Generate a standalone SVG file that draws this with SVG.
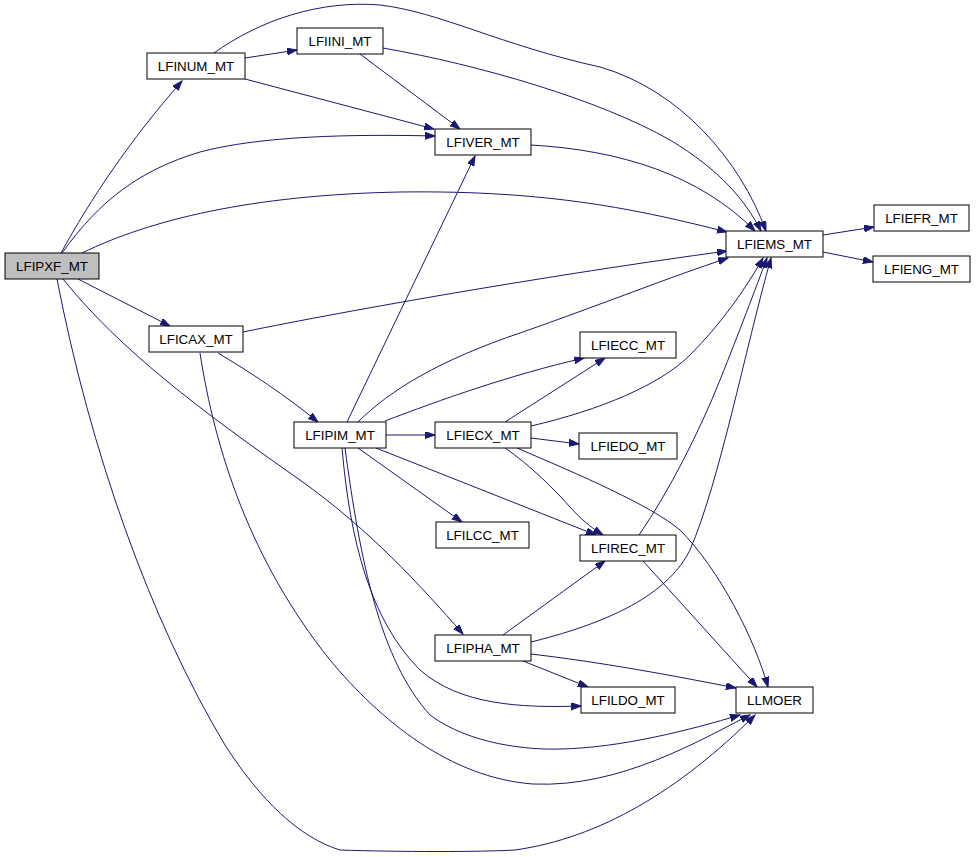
<svg xmlns="http://www.w3.org/2000/svg" width="976" height="857" viewBox="0 0 976 857">
<defs>
<style>
.n rect{fill:#ffffff;stroke:#000000;stroke-width:1}
.n.root rect{fill:#bfbfbf}
.n text{font-family:"Liberation Sans",Arial,Helvetica,sans-serif;font-size:13.33px;fill:#000000;text-anchor:middle}
.e path{fill:none;stroke:#191970;stroke-width:1;marker-end:url(#ah)}
</style>
<marker id="ah" markerUnits="userSpaceOnUse" markerWidth="11" markerHeight="8" refX="10" refY="3.5" orient="auto">
<polygon points="0,0 10,3.5 0,7" fill="#191970" stroke="#191970" stroke-width="1"/>
</marker>
</defs>
<rect width="976" height="857" fill="#ffffff"/>
<g id="edges" class="e">
<path d="M61,253 C90,200 130,140 182,81"/>
<path d="M62,253 C100,200 140,170 200,152 C260,136 350,134 435,136"/>
<path d="M82,253 C150,220 250,195 400,192 C550,190 640,210 727,232"/>
<path d="M78,279 L170,326"/>
<path d="M63,279 C120,350 200,410 300,480 C370,530 420,585 463,634"/>
<path d="M57,279 C90,450 150,620 225,745 C260,800 300,838 340,850 C400,852 480,852 515,850 C600,838 680,790 755,715"/>
<path d="M200,353 C215,450 250,560 330,660 C380,720 450,778 533,784 C620,788 700,740 750,715"/>
<path d="M342,448 C350,540 370,620 420,670 C460,705 520,708 581,706"/>
<path d="M345,448 C360,560 380,660 430,715 C470,745 530,750 560,749 C620,748 690,730 740,715"/>
<path d="M243,332 C350,310 550,275 727,251"/>
<path d="M358,422 C390,390 440,360 520,333 C600,305 670,277 728,258"/>
<path d="M347,422 L475,156"/>
<path d="M385,421 C440,400 510,375 584,358"/>
<path d="M386,435 L435,435"/>
<path d="M358,448 L462,522"/>
<path d="M376,448 L596,535"/>
<path d="M218,353 C250,372 285,395 318,422"/>
<path d="M505,422 L605,358"/>
<path d="M531,426 C600,410 660,385 690,355 C720,325 745,290 763,258"/>
<path d="M531,438 L579,444"/>
<path d="M505,448 C530,465 555,490 570,507 C580,518 590,527 603,535"/>
<path d="M517,448 C580,475 650,505 680,530 C720,570 755,640 768,687"/>
<path d="M639,535 C670,490 700,430 720,380 C740,330 755,290 767,258"/>
<path d="M531,642 C620,620 670,590 690,550 C720,480 745,350 771,258"/>
<path d="M643,561 L757,687"/>
<path d="M503,635 L605,561"/>
<path d="M531,654 C600,662 670,675 736,688"/>
<path d="M523,661 L588,687"/>
<path d="M245,58 L297,50"/>
<path d="M245,79 L434,129"/>
<path d="M360,54 L460,129"/>
<path d="M383,48 C480,65 600,100 670,140 C720,170 745,200 761,231"/>
<path d="M214,53 C260,20 320,0 380,5 C440,12 500,45 600,67 C680,90 740,160 766,231"/>
<path d="M531,145 C620,150 700,175 755,231"/>
<path d="M823,235 L874,227"/>
<path d="M823,252 L873,262"/>
</g>
<g id="LFIPXF_MT" class="n root"><rect x="5" y="253" width="94" height="26"/><text x="52" y="271">LFIPXF_MT</text></g>
<g id="LFINUM_MT" class="n"><rect x="147" y="53" width="98" height="26"/><text x="196" y="71">LFINUM_MT</text></g>
<g id="LFIINI_MT" class="n"><rect x="297" y="28" width="86" height="26"/><text x="340" y="46">LFIINI_MT</text></g>
<g id="LFIVER_MT" class="n"><rect x="435" y="129" width="96" height="26"/><text x="483" y="147">LFIVER_MT</text></g>
<g id="LFIEMS_MT" class="n"><rect x="726" y="231" width="97" height="26"/><text x="774.5" y="249">LFIEMS_MT</text></g>
<g id="LFIEFR_MT" class="n"><rect x="874" y="205" width="95" height="26"/><text x="921.5" y="223">LFIEFR_MT</text></g>
<g id="LFIENG_MT" class="n"><rect x="873" y="256" width="97" height="26"/><text x="921.5" y="274">LFIENG_MT</text></g>
<g id="LFICAX_MT" class="n"><rect x="149" y="326" width="94" height="26"/><text x="196" y="344">LFICAX_MT</text></g>
<g id="LFIPIM_MT" class="n"><rect x="294" y="422" width="92" height="26"/><text x="340" y="440">LFIPIM_MT</text></g>
<g id="LFIECX_MT" class="n"><rect x="435" y="422" width="96" height="26"/><text x="483" y="440">LFIECX_MT</text></g>
<g id="LFIECC_MT" class="n"><rect x="580" y="332" width="96" height="26"/><text x="628" y="350">LFIECC_MT</text></g>
<g id="LFIEDO_MT" class="n"><rect x="579" y="433" width="98" height="26"/><text x="628" y="451">LFIEDO_MT</text></g>
<g id="LFILCC_MT" class="n"><rect x="436" y="522" width="93" height="26"/><text x="482.5" y="540">LFILCC_MT</text></g>
<g id="LFIREC_MT" class="n"><rect x="580" y="535" width="96" height="26"/><text x="628" y="553">LFIREC_MT</text></g>
<g id="LFIPHA_MT" class="n"><rect x="435" y="635" width="96" height="26"/><text x="483" y="653">LFIPHA_MT</text></g>
<g id="LFILDO_MT" class="n"><rect x="581" y="687" width="94" height="26"/><text x="628" y="705">LFILDO_MT</text></g>
<g id="LLMOER" class="n"><rect x="736" y="687" width="77" height="26"/><text x="774.5" y="705">LLMOER</text></g>
</svg>
